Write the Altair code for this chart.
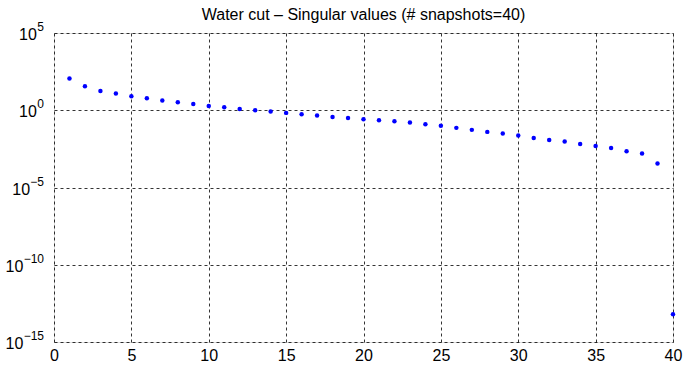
import altair as alt
import pandas as pd

# Data (log10 of the singular values)
snapshot_index = list(range(1, 41))
log10_singular = [2.05, 1.55, 1.25, 1.08, 0.90, 0.78, 0.63, 0.52, 0.41, 0.28,
                  0.19, 0.08, 0.00, -0.08, -0.17, -0.26, -0.34, -0.43, -0.50, -0.58,
                  -0.65, -0.71, -0.79, -0.90, -1.01, -1.14, -1.27, -1.40, -1.51, -1.63,
                  -1.79, -1.92, -2.02, -2.18, -2.31, -2.45, -2.65, -2.80, -3.44, -13.2]
singular_values = [10 ** v for v in log10_singular]

x_ticks = [0, 5, 10, 15, 20, 25, 30, 35, 40]
y_exponents = [-15, -10, -5, 0, 5]
y_tick_base = ["10", "10", "10", "10", "10"]
y_tick_exp = ["\u221215", "\u221210", "\u22125", "0", "5"]
title_text = "Water cut – Singular values (# snapshots=40)"

df = pd.DataFrame({"k": snapshot_index, "sv": singular_values})
lab = pd.DataFrame({"val": [10.0 ** e for e in y_exponents],
                    "base": y_tick_base, "exp": y_tick_exp})

FONT = "Liberation Sans"
yscale = alt.Scale(type="log", domain=[1e-15, 1e5], nice=False)
xscale = alt.Scale(domain=[0, 40], nice=False, zero=False)

points = alt.Chart(df).mark_point(filled=True, size=20, color="#0000ff", opacity=1).encode(
    x=alt.X("k:Q", scale=xscale,
            axis=alt.Axis(values=x_ticks, title=None, grid=True, gridColor="black",
                          gridDash=[3, 3], gridWidth=0.8, gridOpacity=1,
                          domain=False, ticks=False, labelFontSize=16, labelFont=FONT,
                          labelColor="black", labelPadding=5, labelFlush=False)),
    y=alt.Y("sv:Q", scale=yscale,
            axis=alt.Axis(values=[10.0 ** e for e in y_exponents], title=None, grid=True,
                          gridColor="black", gridDash=[3, 3], gridWidth=0.8, gridOpacity=1,
                          domain=False, ticks=False, labels=False)),
)

exp_text = alt.Chart(lab).mark_text(
    font=FONT, fontSize=12, align="right", baseline="alphabetic", dy=-2, color="black",
    clip=False
).encode(
    x=alt.value(-10),
    y=alt.Y("val:Q", scale=yscale),
    text="exp:N",
)

base_text = alt.Chart(lab).transform_calculate(
    bx="-10.5 - 6.7 * length(datum.exp)"
).mark_text(
    font=FONT, fontSize=16, align="right", baseline="alphabetic", dy=7, color="black",
    clip=False
).encode(
    x=alt.X("bx:Q", scale=None),
    y=alt.Y("val:Q", scale=yscale),
    text="base:N",
)

chart = alt.layer(points, exp_text, base_text).properties(
    width=619,
    height=309,
    title=alt.TitleParams(title_text, fontSize=16, font=FONT, fontWeight="normal",
                          color="black", anchor="middle", offset=8, frame="group",
                          dy=10),
    autosize=alt.AutoSizeParams(type="none"),
    padding={"left": 54, "top": 33, "right": 11, "bottom": 28},
).configure_view(
    stroke="black", strokeWidth=1.2
).configure(background="white")

chart.save("out.html", embed_options={"renderer": "svg", "actions": False})
